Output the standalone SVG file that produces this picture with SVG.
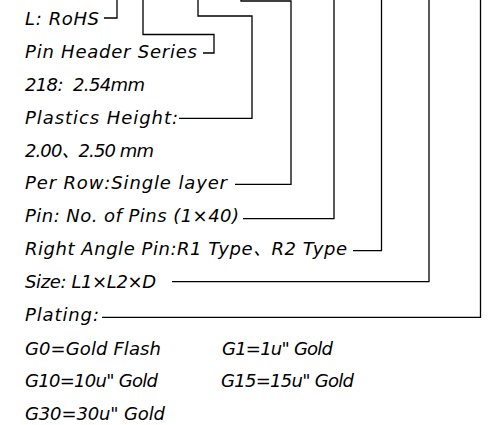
<svg xmlns="http://www.w3.org/2000/svg" width="491" height="425" viewBox="0 0 491 425">
<style>
text{font-family:"DejaVu Sans","Noto Sans CJK SC",sans-serif;font-size:18px;font-style:oblique;fill:#000;white-space:pre}
.c{fill:none;stroke:#000;stroke-width:1.3;stroke-linejoin:miter}
</style>
<rect width="491" height="425" fill="#fff"/>
<g id="connectors">
<path class="c" d="M104,18 H117 V-2"/>
<path class="c" d="M203,53 H214 V34.5 H143 V-2"/>
<path class="c" d="M179,118.3 H252 V16 H198 V-2"/>
<path class="c" d="M235,184.3 H291 V1 H241 V-2"/>
<path class="c" d="M243,218.7 H334 V-2"/>
<path class="c" d="M353,250.7 H381.5 V-2"/>
<path class="c" d="M172,281.7 H429 V-2"/>
<path class="c" d="M102,317.3 H480.5 V-2"/>
</g>
<g id="rohs"><text x="25" y="25" textLength="74" lengthAdjust="spacing">L: RoHS</text></g>
<g id="series"><text x="25" y="57.5" textLength="172" lengthAdjust="spacing">Pin Header Series</text></g>
<g id="pitch"><text x="25" y="91" textLength="120" lengthAdjust="spacing">218:  2.54mm</text></g>
<g id="height"><text x="25" y="123.5" textLength="153" lengthAdjust="spacing">Plastics Height:</text></g>
<g id="height-val"><text x="25" y="156.5" textLength="129" lengthAdjust="spacing">2.00、2.50 mm</text></g>
<g id="row"><text x="25" y="189" textLength="202" lengthAdjust="spacing">Per Row:Single layer</text></g>
<g id="pins"><text x="25" y="221.5" textLength="214" lengthAdjust="spacing">Pin: No. of Pins (1×40)</text></g>
<g id="angle"><text x="25" y="255" textLength="322" lengthAdjust="spacing">Right Angle Pin:R1 Type、R2 Type</text></g>
<g id="size"><text x="25" y="288" textLength="131" lengthAdjust="spacing">Size: L1×L2×D</text></g>
<g id="plating"><text x="25" y="321" textLength="74" lengthAdjust="spacing">Plating:</text></g>
<g id="plating-opts">
<text x="25" y="354.5" textLength="136" lengthAdjust="spacing">G0=Gold Flash</text>
<text x="222" y="354.5" textLength="111" lengthAdjust="spacing">G1=1u" Gold</text>
<text x="25" y="387" textLength="133" lengthAdjust="spacing">G10=10u" Gold</text>
<text x="221" y="387" textLength="133" lengthAdjust="spacing">G15=15u" Gold</text>
<text x="25" y="420" textLength="140" lengthAdjust="spacing">G30=30u" Gold</text>
</g>
</svg>
